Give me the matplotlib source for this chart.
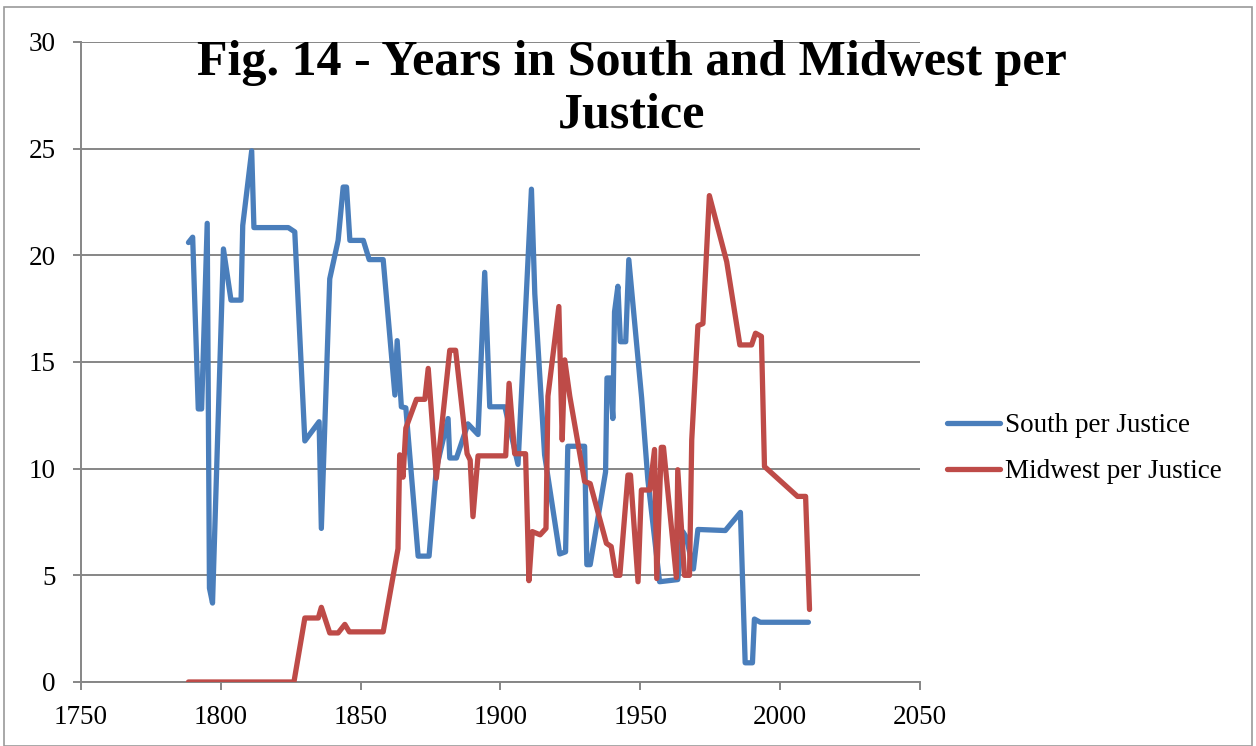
import matplotlib
matplotlib.use("Agg")
import matplotlib.pyplot as plt
from matplotlib.patches import Rectangle

# Values (year, years per justice)
south_year = [1788.5, 1790, 1792, 1793.2, 1795.2, 1796, 1797.1, 1801, 1803.7, 1807.3,
              1807.9, 1811.1, 1811.9, 1824.2, 1826.5, 1830.1, 1835.2, 1836, 1839, 1842,
              1843.8, 1845, 1846.2, 1851, 1853.1, 1858.1, 1862.3, 1863.1, 1864.6, 1866.2,
              1870.6, 1874.5, 1877.1, 1881.3, 1881.9, 1884.3, 1888.4, 1892, 1894.4, 1896.2,
              1901.6, 1906.3, 1911.1, 1912.3, 1915.8, 1921.2, 1923.3, 1924.1, 1930.1, 1930.9,
              1932.1, 1937.6, 1938.1, 1939.3, 1940.2, 1940.8, 1942, 1942.9, 1944.8, 1945.9,
              1950.5, 1952.7, 1956.9, 1963.4, 1965.2, 1966.4, 1969, 1970.6, 1980.4, 1985.8,
              1987.5, 1990.1, 1990.8, 1992.9, 2010.1]
south_val = [20.6, 20.85, 12.8, 12.8, 21.5, 4.4, 3.7, 20.3, 17.9, 17.9,
             21.4, 24.9, 21.3, 21.3, 21.1, 11.3, 12.2, 7.2, 18.9, 20.7,
             23.2, 23.2, 20.7, 20.7, 19.8, 19.8, 13.45, 16.0, 12.9, 12.85,
             5.9, 5.9, 10.0, 12.35, 10.5, 10.5, 12.1, 11.6, 19.2, 12.9,
             12.9, 10.2, 23.1, 18.2, 10.65, 6.0, 6.1, 11.05, 11.05, 5.5,
             5.5, 9.85, 14.25, 14.25, 12.35, 17.35, 18.55, 15.95, 15.95, 19.8,
             13.3, 9.5, 4.7, 4.8, 7.05, 6.8, 5.3, 7.15, 7.1, 7.95,
             0.9, 0.9, 2.95, 2.8, 2.8]

midwest_year = [1788.5, 1826.2, 1830.1, 1834.9, 1836, 1839, 1842, 1844.4, 1846, 1858.1,
                1863.4, 1864, 1865.2, 1866.2, 1870, 1873, 1874.2, 1877.1, 1881.9, 1884,
                1888.1, 1889.2, 1890.2, 1892, 1901.9, 1903.1, 1905.1, 1909, 1910.2, 1911.4,
                1914.2, 1916.3, 1917, 1920.9, 1922.1, 1923, 1924.8, 1930.1, 1932.1, 1937.9,
                1939.6, 1941.3, 1942.7, 1945.6, 1946.5, 1949.2, 1950.4, 1953.4, 1955.1, 1955.9,
                1957.5, 1958.3, 1962.9, 1963.4, 1965.8, 1967.6, 1968.4, 1970.6, 1972.4, 1974.7,
                1980.9, 1985.6, 1989.8, 1991.2, 1993.3, 1994.4, 2006.2, 2009.1, 2010.5]
midwest_val = [0, 0, 3.0, 3.0, 3.5, 2.3, 2.3, 2.7, 2.35, 2.35,
               6.25, 10.65, 9.6, 11.9, 13.25, 13.25, 14.7, 9.55, 15.55, 15.55,
               10.7, 10.4, 7.75, 10.6, 10.6, 14.0, 10.7, 10.7, 4.75, 7.05,
               6.9, 7.2, 13.4, 17.6, 11.35, 15.1, 13.4, 9.4, 9.3, 6.5,
               6.35, 5.0, 5.0, 9.7, 9.7, 4.7, 9.0, 9.0, 10.9, 4.85,
               11.0, 11.0, 4.9, 9.95, 5.0, 5.0, 11.35, 16.7, 16.8, 22.8,
               19.7, 15.8, 15.8, 16.35, 16.2, 10.1, 8.7, 8.7, 3.4]

title = "Fig. 14 - Years in South and Midwest per\nJustice"
x_ticks = [1750, 1800, 1850, 1900, 1950, 2000, 2050]
y_ticks = [0, 5, 10, 15, 20, 25, 30]

plt.rcParams['font.family'] = ['Liberation Serif', 'DejaVu Serif']

fig = plt.figure(figsize=(12.56, 7.46), dpi=100)
ax = fig.add_axes([0.0643, 0.0858, 0.6682, 0.8579])

grid_c = '#868686'
ax.plot(south_year, south_val, color='#4A7EBB', lw=3.8, solid_joinstyle='round',
        solid_capstyle='round', label='South per Justice', zorder=3)
ax.plot(midwest_year, midwest_val, color='#BE4B48', lw=3.8, solid_joinstyle='round',
        solid_capstyle='round', label='Midwest per Justice', zorder=3)

ax.set_xlim(1750, 2050)
ax.set_ylim(0, 30)
ax.set_xticks(x_ticks)
ax.set_yticks(y_ticks)
ax.yaxis.grid(True, color=grid_c, lw=1.4)
ax.set_axisbelow(True)
for s in ['top', 'right']:
    ax.spines[s].set_visible(False)
for s in ['left', 'bottom']:
    ax.spines[s].set_color(grid_c)
    ax.spines[s].set_linewidth(1.4)
ax.tick_params(axis='both', colors=grid_c, width=1.4, length=6, labelsize=19.5,
               labelcolor='black')
ax.tick_params(axis='y', pad=12)
ax.tick_params(axis='x', pad=10.5)

fig.text(0.503, 0.880, title, ha='center', va='center', fontsize=36,
         fontweight='bold', linespacing=1.18)

ax.legend(loc='upper left', bbox_to_anchor=(0.754, 0.446), bbox_transform=fig.transFigure,
          frameon=False, fontsize=19.5, handlelength=1.95, handletextpad=0.2,
          labelspacing=0.78, borderpad=0, borderaxespad=0)

fig.patches.append(Rectangle((0.003, 0.0), 0.994, 0.99, transform=fig.transFigure,
                             fill=False, edgecolor='#9a9a9a', lw=1.2))

fig.savefig('out.png', dpi=100)
